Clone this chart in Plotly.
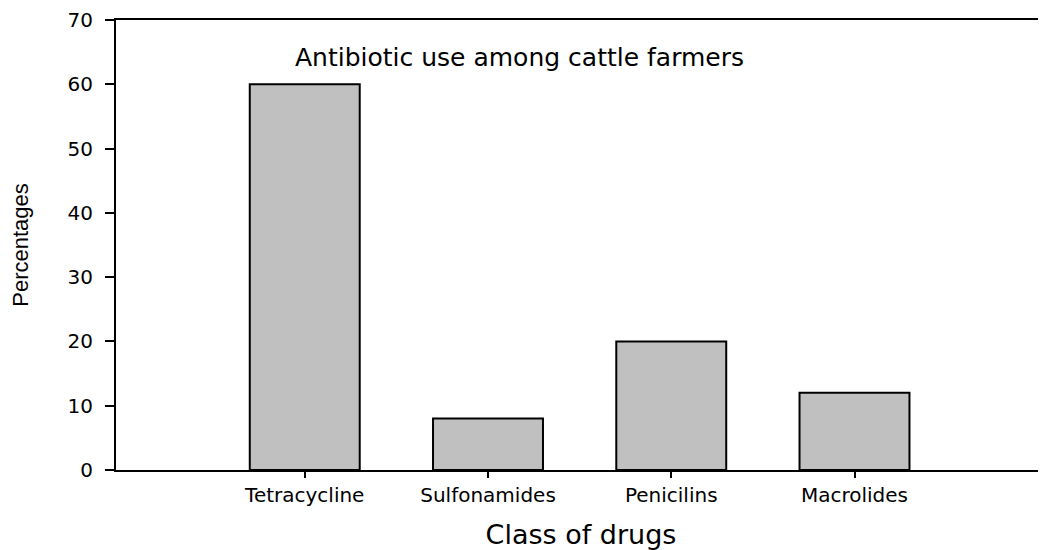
import plotly.graph_objects as go

# Data
drugs = ["Tetracycline", "Sulfonamides", "Penicilins", "Macrolides"]
percentages = [60, 8, 20, 12]
y_ticks = [0, 10, 20, 30, 40, 50, 60, 70]

fig = go.Figure()

fig.add_trace(go.Bar(
    x=drugs,
    y=percentages,
    width=0.6,
    marker=dict(color="#c0c0c0", line=dict(color="black", width=2)),
    showlegend=False,
))

fig.add_annotation(
    text="Antibiotic use among cattle farmers",
    xref="paper", yref="y",
    x=0.434, y=64.1,
    showarrow=False,
    font=dict(family="DejaVu Sans", size=25, color="black"),
)

# the page puts the figure 8px in from the top-left corner
fig.update_layout(
    width=1038,
    height=542,
    margin=dict(l=108, r=0, t=10, b=80),
    plot_bgcolor="white",
    paper_bgcolor="white",
    font=dict(family="DejaVu Sans", color="black"),
)

fig.update_xaxes(
    type="category",
    range=[-1.03, 4.045],
    showline=True, linecolor="black", linewidth=2, mirror=True,
    ticks="outside", ticklen=6, tickwidth=2, tickcolor="black",
    tickfont=dict(family="DejaVu Sans", size=20),
    showgrid=False, zeroline=False,
    title=dict(text="Class of drugs", font=dict(family="DejaVu Sans", size=27), standoff=20),
)

fig.update_yaxes(
    range=[0, 70],
    tickvals=y_ticks,
    showline=True, linecolor="black", linewidth=2,
    ticks="outside", ticklen=9, tickwidth=2, tickcolor="black",
    tickfont=dict(family="DejaVu Sans", size=20),
    ticklabelstandoff=8,
    ticklabeloverflow="allow",
    showgrid=False, zeroline=False,
    title=dict(text="Percentages", font=dict(family="Liberation Sans Narrow, Liberation Sans", size=22), standoff=40),
)

fig.write_html("out.html")
